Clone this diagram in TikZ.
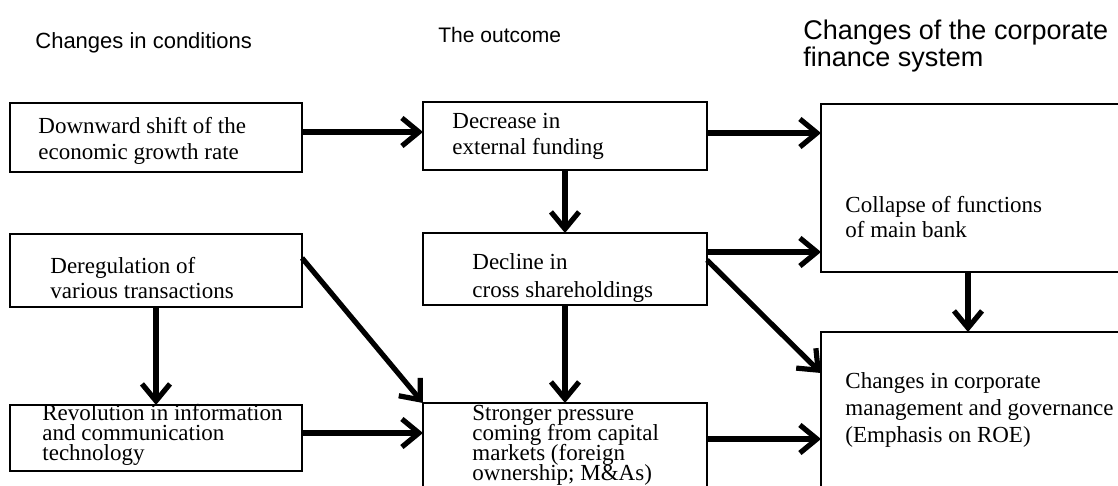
\documentclass[tikz,border=0pt]{standalone}
\usepackage{fontspec}
\setmainfont{Liberation Serif}
\newfontfamily\headfont{Liberation Sans}
\usetikzlibrary{arrows.meta}
\newcommand{\tightlines}{\lineskiplimit=-20pt\lineskip=0pt}
\begin{document}
\begin{tikzpicture}[x=0.5pt,y=-0.5pt,
  box/.style={draw, line width=1.15pt, inner sep=0pt, outer sep=0pt, anchor=north west},
  head/.style={font=\headfont\fontsize{11}{13.5}\selectfont, anchor=base west, inner sep=0pt, align=left},
  txt/.style={anchor=base west, inner sep=0pt, align=left},
  arr/.style={line width=2.6pt, -{Straight Barb[length=8.5pt,width=14pt]}}]
\useasboundingbox (0,0) rectangle (1118,486);
\clip (0,0) rectangle (1118,486);
\fill[white] (0,0) rectangle (1118,486);

% column headings (base anchor = baseline of the last line)
\node[head] (h1) at (35,49) {Changes in conditions};
\node[head, font=\headfont\fontsize{10.5}{13}\selectfont] (h2) at (438,43) {The outcome};
\node[head, font=\headfont\fontsize{13.5}{13.5}\selectfont] (h3) at (803,67) {Changes of the corporate\\finance system};

% boxes
\node[box, minimum width=146pt, minimum height=34.5pt] (A) at (10,103) {};
\node[box, minimum width=142pt, minimum height=34pt]   (B) at (423,102) {};
\node[box, minimum width=165pt, minimum height=84pt]   (C) at (821,104) {};
\node[box, minimum width=146pt, minimum height=36.5pt] (D) at (10,234) {};
\node[box, minimum width=142pt, minimum height=36pt]   (E) at (423,233) {};
\node[box, minimum width=146pt, minimum height=33pt]   (F) at (10,405) {};
\node[box, minimum width=142pt, minimum height=55pt]   (G) at (423,403) {};
\node[box, minimum width=165pt, minimum height=100pt]  (H) at (821,332) {};

% box texts
\node[txt, font=\fontsize{11.5}{13}\selectfont]   (tA) at (38,160)  {Downward shift of the\\economic growth rate};
\node[txt, font=\fontsize{11.5}{13}\selectfont]   (tB) at (452,155) {Decrease in\\external funding};
\node[txt, font=\fontsize{11.5}{12.5}\selectfont] (tC) at (845,237) {Collapse of functions\\of main bank};
\node[txt, font=\fontsize{11.5}{13}\selectfont]   (tD) at (50,299)  {Deregulation of\\various transactions};
\node[txt, font=\fontsize{11.5}{13.5}\selectfont] (tE) at (472,297) {Decline in\\cross shareholdings};
\node[txt, font=\fontsize{11.5}{10}\selectfont\tightlines] (tF) at (42,460) {Revolution in information\\and communication\\technology};
\node[txt, font=\fontsize{11.5}{10}\selectfont\tightlines] (tG) at (472,480) {Stronger pressure\\coming from capital\\markets (foreign\\ownership; M\&As)};
\node[txt, font=\fontsize{11.5}{13.5}\selectfont] (tH) at (845,442) {Changes in corporate\\management and governance\\(Emphasis on ROE)};

% connectors
\draw[arr] ([yshift=-14.5pt]A.north east) -- ([yshift=-15pt]B.north west);
\draw[arr] ([yshift=-15.5pt]B.north east) -- ([yshift=-14.5pt]C.north west);
\draw[arr] ([yshift=-9.5pt]E.north east) -- ([yshift=10pt]C.south west);
\draw[arr] ([yshift=-14pt]F.north east) -- ([yshift=-15pt]G.north west);
\draw[arr] ([yshift=-18pt]G.north east) -- ([yshift=-53.5pt]H.north west);
\draw[arr] (B.south) -- (E.north);
\draw[arr] (E.south) -- (G.north);
\draw[arr] (D.south) -- (F.north);
\draw[arr] ([xshift=73.5pt]C.south west) -- ([xshift=73.5pt]H.north west);
\draw[arr] ([yshift=-12pt]D.north east) -- (G.north west);
\draw[arr] ([yshift=-13.5pt]E.north east) -- ([yshift=-20.5pt]H.north west);
\end{tikzpicture}
\end{document}
